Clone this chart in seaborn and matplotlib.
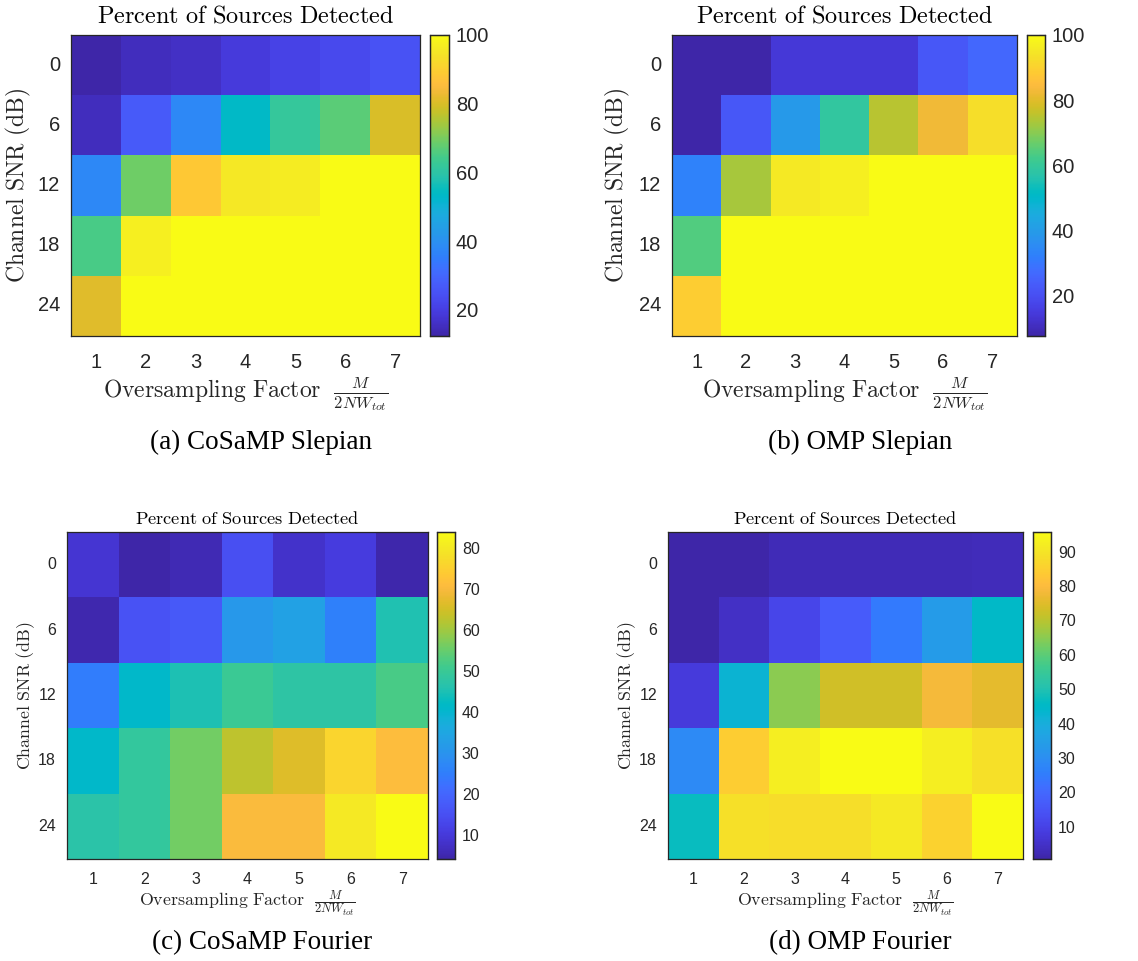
import numpy as np
import pandas as pd
import matplotlib
matplotlib.use("Agg")
import matplotlib.pyplot as plt
import seaborn as sns
from matplotlib.colors import LinearSegmentedColormap

# ---------------- data ----------------
snr_labels = ["0", "6", "12", "18", "24"]
factor_labels = ["1", "2", "3", "4", "5", "6", "7"]

cosamp_slepian = [
    [12.4, 15, 16, 19, 21, 23, 25],
    [15, 27, 38, 53.5, 62, 67, 80],
    [38, 69, 88.5, 95.5, 96.5, 100, 100],
    [65, 97, 100, 100, 100, 100, 100],
    [81, 100, 100, 100, 100, 100, 100],
]
omp_slepian = [
    [7.6, 7.5, 14, 14, 14, 22, 26],
    [7.5, 22, 39, 59, 75, 82.5, 93],
    [32.5, 73, 95.5, 97, 100, 100, 100],
    [64, 100, 100, 100, 100, 100, 100],
    [89, 100, 100, 100, 100, 100, 100],
]
cosamp_fourier = [
    [9, 4.1, 5.5, 15, 8, 10.5, 4.5],
    [5, 15.5, 17, 31, 33.5, 25.5, 45.6],
    [25, 41, 45, 50, 47.5, 47.5, 52],
    [41, 49, 56, 63, 66.5, 76, 71],
    [47, 49, 56, 70.5, 70.5, 80, 84],
]
omp_fourier = [
    [0.6, 0.8, 2.5, 2.5, 2.5, 2.5, 3],
    [0.8, 4.5, 11, 16.6, 24.5, 34, 45],
    [8, 42.5, 65, 73, 73, 78.5, 76],
    [28.5, 84.5, 92, 95.5, 95.7, 92, 89],
    [47, 89, 88, 88.5, 91, 85.5, 95.7],
]

cbar_ticks_a = [20, 40, 60, 80, 100]
cbar_ticks_b = [20, 40, 60, 80, 100]
cbar_ticks_c = [10, 20, 30, 40, 50, 60, 70, 80]
cbar_ticks_d = [10, 20, 30, 40, 50, 60, 70, 80, 90]

captions = ["(a) CoSaMP Slepian", "(b) OMP Slepian", "(c) CoSaMP Fourier", "(d) OMP Fourier"]

# ---------------- parula colormap ----------------
parula_data = [
    [0.2422, 0.1504, 0.6603], [0.2504, 0.1650, 0.7076], [0.2578, 0.1818, 0.7511],
    [0.2647, 0.1978, 0.7952], [0.2706, 0.2147, 0.8364], [0.2751, 0.2342, 0.8710],
    [0.2783, 0.2559, 0.8991], [0.2803, 0.2782, 0.9221], [0.2813, 0.3006, 0.9414],
    [0.2810, 0.3228, 0.9579], [0.2795, 0.3447, 0.9717], [0.2760, 0.3667, 0.9829],
    [0.2699, 0.3892, 0.9906], [0.2602, 0.4123, 0.9952], [0.2440, 0.4358, 0.9988],
    [0.2206, 0.4603, 0.9973], [0.1963, 0.4847, 0.9892], [0.1834, 0.5074, 0.9798],
    [0.1786, 0.5289, 0.9682], [0.1764, 0.5499, 0.9520], [0.1687, 0.5703, 0.9359],
    [0.1540, 0.5902, 0.9218], [0.1460, 0.6091, 0.9079], [0.1380, 0.6276, 0.8973],
    [0.1248, 0.6459, 0.8883], [0.1113, 0.6635, 0.8763], [0.0952, 0.6798, 0.8598],
    [0.0689, 0.6948, 0.8394], [0.0297, 0.7082, 0.8163], [0.0036, 0.7203, 0.7917],
    [0.0067, 0.7312, 0.7660], [0.0433, 0.7411, 0.7394], [0.0964, 0.7500, 0.7120],
    [0.1408, 0.7584, 0.6842], [0.1717, 0.7670, 0.6554], [0.1938, 0.7758, 0.6251],
    [0.2161, 0.7843, 0.5923], [0.2470, 0.7918, 0.5567], [0.2906, 0.7973, 0.5188],
    [0.3406, 0.8008, 0.4789], [0.3909, 0.8029, 0.4354], [0.4456, 0.8024, 0.3909],
    [0.5044, 0.7993, 0.3480], [0.5616, 0.7942, 0.3045], [0.6174, 0.7876, 0.2612],
    [0.6720, 0.7793, 0.2227], [0.7242, 0.7698, 0.1910], [0.7738, 0.7598, 0.1646],
    [0.8203, 0.7498, 0.1535], [0.8634, 0.7406, 0.1596], [0.9035, 0.7330, 0.1774],
    [0.9393, 0.7288, 0.2100], [0.9728, 0.7298, 0.2394], [0.9956, 0.7434, 0.2371],
    [0.9970, 0.7659, 0.2199], [0.9952, 0.7893, 0.2028], [0.9892, 0.8136, 0.1885],
    [0.9786, 0.8386, 0.1766], [0.9676, 0.8639, 0.1643], [0.9610, 0.8890, 0.1537],
    [0.9597, 0.9135, 0.1423], [0.9628, 0.9373, 0.1265], [0.9691, 0.9606, 0.1064],
    [0.9769, 0.9839, 0.0805],
]
parula = LinearSegmentedColormap.from_list("parula", parula_data, N=256)

# ---------------- figure ----------------
sns.set_theme(style="white")
plt.rcParams["font.family"] = ["Liberation Sans", "DejaVu Sans"]
plt.rcParams["mathtext.fontset"] = "cm"

W, H = 1138, 961
fig = plt.figure(figsize=(W / 100, H / 100), dpi=100)
fig.patch.set_facecolor("white")


def px(l, t, r, b):
    return [l / W, 1 - b / H, (r - l) / W, (b - t) / H]


panels = [
    dict(data=cosamp_slepian, ticks=cbar_ticks_a, ax=px(71, 35, 420, 336), cb=px(430, 35, 449, 336),
         big=True, ylab_x=-0.109, xlab_y=-0.128, cap=(261, 442)),
    dict(data=omp_slepian, ticks=cbar_ticks_b, ax=px(672, 35, 1017, 336), cb=px(1027, 35, 1045, 336),
         big=True, ylab_x=-0.116, xlab_y=-0.128, cap=(860, 442)),
    dict(data=cosamp_fourier, ticks=cbar_ticks_c, ax=px(67, 532, 428, 859), cb=px(437, 532, 455, 859),
         big=False, ylab_x=-0.083, xlab_y=-0.088, cap=(262, 943)),
    dict(data=omp_fourier, ticks=cbar_ticks_d, ax=px(668, 532, 1023, 859), cb=px(1033, 532, 1051, 859),
         big=False, ylab_x=-0.085, xlab_y=-0.088, cap=(860, 943)),
]

edge = "#262626"
for p, cap in zip(panels, captions):
    ax = fig.add_axes(p["ax"])
    cax = fig.add_axes(p["cb"])
    df = pd.DataFrame(p["data"], index=snr_labels, columns=factor_labels)
    tick_fs = 14.5 if p["big"] else 11.5
    title_fs = 17.5 if p["big"] else 13.2
    lab_fs = 17 if p["big"] else 12.9
    sns.heatmap(df, ax=ax, cbar_ax=cax, cmap=parula, cbar=True,
                cbar_kws={"ticks": p["ticks"]})
    ax.set_title(r"$\mathrm{Percent\ of\ Sources\ Detected}$", fontsize=title_fs,
                 pad=9 if p["big"] else 6, color="black")
    ax.set_ylabel(r"$\mathrm{Channel\ SNR\ (dB)}$", fontsize=lab_fs, color="#262626")
    ax.set_xlabel(r"$\mathrm{Oversampling\ Factor}\ \ \frac{M}{2NW_{tot}}$", fontsize=lab_fs,
                  color="#262626")
    ax.yaxis.set_label_coords(p["ylab_x"], 0.5)
    ax.xaxis.set_label_coords(0.5, p["xlab_y"])
    ax.set_yticklabels(snr_labels, rotation=0, fontsize=tick_fs, color="#262626")
    ax.set_xticklabels(factor_labels, rotation=0, fontsize=tick_fs, color="#262626")
    ax.tick_params(axis="both", which="both", direction="in", length=4, width=0.8,
                   color=edge, top=True, right=True, bottom=True, left=True, pad=8)
    ax.tick_params(axis="x", pad=12 if p["big"] else 9)
    for s in ax.spines.values():
        s.set_visible(True)
        s.set_color(edge)
        s.set_linewidth(0.9)
    cax.tick_params(direction="in", length=4, width=0.8, color=edge, labelsize=tick_fs,
                    labelcolor="#262626", pad=5)
    for s in cax.spines.values():
        s.set_visible(True)
        s.set_color(edge)
        s.set_linewidth(0.9)
    cax.yaxis.set_ticks_position("right")
    fig.text(p["cap"][0] / W, 1 - p["cap"][1] / H, cap, ha="center", va="center",
             fontsize=19.5, family="Liberation Serif", color="black")

fig.savefig("out.png", dpi=100, facecolor="white")
